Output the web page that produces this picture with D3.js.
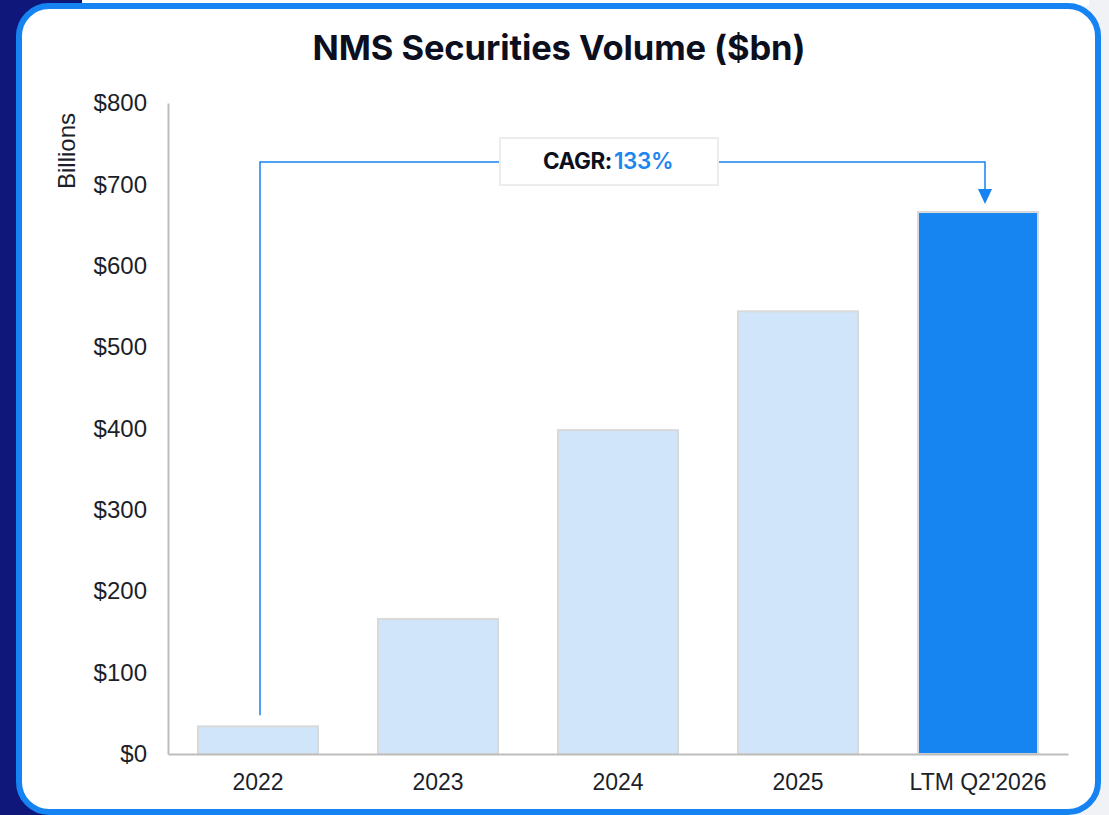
<!DOCTYPE html>
<html><head><meta charset="utf-8">
<script src="https://cdn.jsdelivr.net/npm/d3@7/dist/d3.min.js"></script>
<style>html,body{margin:0;padding:0;background:#fff;}svg{display:block;font-family:Inter,"Noto Sans",sans-serif;}</style>
</head><body>
<svg id="chart" width="1109" height="815"></svg>
<script>
const categories = ["2022", "2023", "2024", "2025", "LTM Q2'2026"];
const values = [34, 166, 398, 544, 666];
const highlight = [false, false, false, false, true];
const yTicks = [0, 100, 200, 300, 400, 500, 600, 700, 800];
const title = "NMS Securities Volume ($bn)";
const yAxisTitle = "Billions";
const cagrLabel = "CAGR:";
const cagrValue = "133%";

const svg = d3.select("#chart");
const W = 1109, H = 815;
const labelFont = "'Liberation Sans', Arial, sans-serif";

// background pieces
svg.append("rect").attr("x", 0).attr("y", 0).attr("width", W).attr("height", H).attr("fill", "#f1f2f5");
svg.append("rect").attr("x", 0).attr("y", 0).attr("width", 82).attr("height", H).attr("fill", "#10177a");
svg.append("rect").attr("x", 82).attr("y", 0).attr("width", W - 82 - 20).attr("height", 6).attr("fill", "#ffffff");
// card
svg.append("rect").attr("x", 19).attr("y", 6).attr("width", 1079).attr("height", 806)
  .attr("rx", 30).attr("ry", 30).attr("fill", "#ffffff").attr("stroke", "#1683f2").attr("stroke-width", 6);

const x = d3.scaleBand().domain(categories).range([168, 1068]).paddingInner(1/3).paddingOuter(1/6);
const y = d3.scaleLinear().domain([0, 800]).range([754, 103]);

// title
svg.append("text").attr("x", 559).attr("y", 60).attr("text-anchor", "middle")
  .attr("font-size", 34.5).attr("font-weight", 700).attr("fill", "#0b0f1e").attr("letter-spacing", -0.1).text(title);

// y axis
const yAxis = d3.axisLeft(y).tickValues(yTicks).tickSize(0).tickPadding(21).tickFormat(d => "$" + d);
const gy = svg.append("g").attr("transform", "translate(168,0)").call(yAxis);
gy.select(".domain").attr("stroke", "#bdbdbd").attr("stroke-width", 2);
gy.selectAll("text").attr("font-size", 24).attr("fill", "#1c1f2a").attr("font-family", labelFont);

// y axis title
svg.append("text").attr("transform", "translate(75,151) rotate(-90)").attr("text-anchor", "middle")
  .attr("font-size", 24).attr("fill", "#1c1f2a").attr("font-family", labelFont).text(yAxisTitle);

// bars
svg.append("g").selectAll("rect").data(categories).join("rect")
  .attr("x", d => x(d)).attr("width", x.bandwidth())
  .attr("y", (d, i) => y(values[i])).attr("height", (d, i) => y(0) - y(values[i]))
  .attr("fill", (d, i) => highlight[i] ? "#1685f2" : "#d1e5fa")
  .attr("stroke", "#d9d9d9").attr("stroke-width", 2);

// x axis
const xAxis = d3.axisBottom(x).tickSize(0).tickPadding(20);
const gx = svg.append("g").attr("transform", "translate(0,754)").call(xAxis);
gx.select(".domain").attr("stroke", "#bdbdbd").attr("stroke-width", 2);
gx.selectAll("text").attr("font-size", 23).attr("fill", "#1c1f2a").attr("font-family", labelFont);

// CAGR annotation
const x0 = x(categories[0]) + x.bandwidth() / 2 + 2;
const x1 = x(categories[4]) + x.bandwidth() / 2 + 7;
const lineY = 162;
const boxL = 500, boxR = 718;
const blue = "#1683f2";
svg.append("path").attr("d", `M${x0},${y(values[0]) - 11}V${lineY}H${boxL}`).attr("fill", "none").attr("stroke", blue).attr("stroke-width", 1.5);
svg.append("path").attr("d", `M${boxR},${lineY}H${x1}V${190}`).attr("fill", "none").attr("stroke", blue).attr("stroke-width", 1.5);
svg.append("path").attr("d", `M${x1 - 7},${189}L${x1 + 7},${189}L${x1},${204}Z`).attr("fill", blue);
svg.append("rect").attr("x", boxL).attr("y", 138).attr("width", boxR - boxL).attr("height", 47)
  .attr("fill", "#ffffff").attr("stroke", "#ececec").attr("stroke-width", 2);
const t = svg.append("text").attr("x", (boxL + boxR) / 2 - 1).attr("y", 169).attr("text-anchor", "middle")
  .attr("font-size", 22.5).attr("letter-spacing", -0.4);
t.append("tspan").attr("font-weight", 700).attr("fill", "#0b0f1e").text(cagrLabel);
t.append("tspan").attr("dx", 2).attr("font-weight", 600).attr("fill", "#1a86ee").text(cagrValue);
</script>
</body></html>
